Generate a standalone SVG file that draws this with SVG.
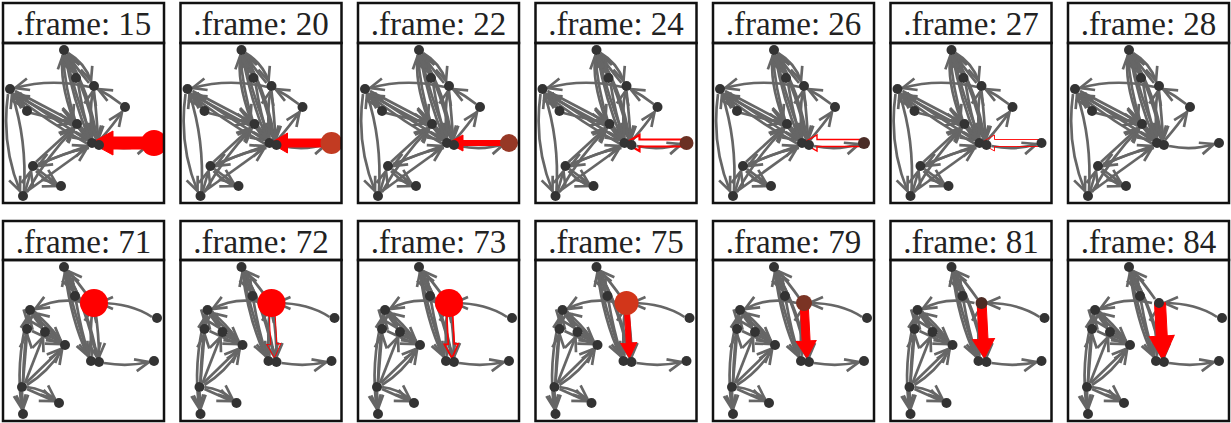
<svg xmlns="http://www.w3.org/2000/svg" xmlns:xlink="http://www.w3.org/1999/xlink" width="1231" height="423" viewBox="0 0 1231 423">
<style>
.e{fill:none;stroke:#666;stroke-width:2.7;marker-end:url(#ah)}
.n{fill:#333}
.box{fill:none;stroke:#111;stroke-width:2.5}
.bg{fill:#fff;stroke:none}
.lbl{fill:#222;text-anchor:middle}
.rf{fill:#ff0000;stroke:#ff0000;stroke-width:1;stroke-linejoin:miter}
.ro{fill:none;stroke:#ff0000;stroke-linejoin:miter}
</style>
<defs>
<marker id="ah" markerUnits="userSpaceOnUse" viewBox="-16 -9 18 18" markerWidth="18" markerHeight="18" refX="0" refY="0" orient="auto">
<path d="M-14,-6 L0,0 L-14,6" fill="none" stroke="#666" stroke-width="2.7"/>
</marker>
<clipPath id="cpT"><rect x="0" y="43" width="161" height="160"/></clipPath>
<clipPath id="cpB"><rect x="0" y="260" width="161" height="161"/></clipPath>
<g id="topEdges">
<path class="e" d="M89,138 Q72,95 63,56"/>
<path class="e" d="M94,140 Q84,95 65,55"/>
<path class="e" d="M62,55 Q70,100 86,138"/>
<path class="e" d="M64,55 Q88,95 94,140"/>
<path class="e" d="M91,91 Q94,118 95,140"/>
<path class="e" d="M89,138 Q86,110 90,91"/>
<path class="e" d="M75,83 Q80,115 88,138"/>
<path class="e" d="M86,83 Q72,66 65,55"/>
<path class="e" d="M62,55 L71,73"/>
<path class="e" d="M65,53 Q82,63 88,81"/>
<path class="e" d="M72,120 Q62,88 60,55"/>
<path class="e" d="M60,55 Q56,80 70,119"/>
<path class="e" d="M87,87 Q48,78 12,88"/>
<path class="e" d="M12,91 L69,121"/>
<path class="e" d="M70,126 L12,95"/>
<path class="e" d="M12,93 Q50,118 84,140"/>
<path class="e" d="M85,144 Q45,122 11,95"/>
<path class="e" d="M28,113 L69,123"/>
<path class="e" d="M10,93 L21,107"/>
<path class="e" d="M5,94 Q-2,145 17,191"/>
<path class="e" d="M21,191 Q24,140 9,94"/>
<path class="e" d="M33,162 L70,128"/>
<path class="e" d="M35,164 L84,146"/>
<path class="e" d="M86,148 Q60,152 35,166"/>
<path class="e" d="M23,192 L84,148"/>
<path class="e" d="M24,192 Q45,155 71,129"/>
<path class="e" d="M34,169 L53,183"/>
<path class="e" d="M33,171 Q44,182 54,186"/>
<path class="e" d="M22,192 L28,171"/>
<path class="e" d="M77,128 L86,139"/>
<path class="e" d="M118,104 Q108,96 95,89"/>
<path class="e" d="M97,140 Q110,125 119,112"/>
<path class="e" d="M101,146 Q125,151 146,144"/>
</g>
<g id="topNodes">
<g id="tA"><circle class="n" cx="61" cy="50" r="5"/></g>
<g id="tB"><circle class="n" cx="73" cy="78" r="5"/></g>
<g id="tC"><circle class="n" cx="91" cy="86" r="5"/></g>
<g id="tD"><circle class="n" cx="7" cy="89" r="5"/></g>
<g id="tE"><circle class="n" cx="24" cy="111" r="5"/></g>
<g id="tF"><circle class="n" cx="122" cy="107" r="5"/></g>
<g id="tG"><circle class="n" cx="74" cy="124" r="5"/></g>
<g id="tH"><circle class="n" cx="89" cy="143" r="5"/></g>
<g id="tH2"><circle class="n" cx="96" cy="145" r="5"/></g>
<g id="tR"><circle class="n" cx="151" cy="143" r="5"/></g>
<g id="tI"><circle class="n" cx="30" cy="166" r="5"/></g>
<g id="tJ"><circle class="n" cx="58" cy="186" r="5"/></g>
<g id="tK"><circle class="n" cx="20" cy="196" r="5"/></g>
</g>
<g id="botEdges">
<path class="e" d="M86,356 Q70,310 62,272"/>
<path class="e" d="M94,357 Q82,305 64,272"/>
<path class="e" d="M62,272 Q68,320 85,356"/>
<path class="e" d="M63,272 Q86,310 94,357"/>
<path class="e" d="M73,301 Q78,330 86,356"/>
<path class="e" d="M62,272 L70,291"/>
<path class="e" d="M87,299 Q75,282 65,271"/>
<path class="e" d="M92,308 Q96,335 96,357"/>
<path class="e" d="M89,356 Q86,330 90,308"/>
<path class="e" d="M84,303 Q55,296 32,309"/>
<path class="e" d="M30,314 L58,341"/>
<path class="e" d="M29,314 L39,328"/>
<path class="e" d="M29,331 L57,344"/>
<path class="e" d="M46,335 L58,342"/>
<path class="e" d="M58,341 Q44,322 32,313"/>
<path class="e" d="M26,315 L25,324"/>
<path class="e" d="M20,382 Q21,345 26,315"/>
<path class="e" d="M20,382 L24,334"/>
<path class="e" d="M22,383 L40,337"/>
<path class="e" d="M23,383 L58,349"/>
<path class="e" d="M24,385 Q45,372 59,350"/>
<path class="e" d="M25,314 Q12,365 19,409"/>
<path class="e" d="M19,392 L20,409"/>
<path class="e" d="M24,389 L51,401"/>
<path class="e" d="M24,387 Q40,389 52,399"/>
<path class="e" d="M149,317 Q128,303 96,303"/>
<path class="e" d="M101,363 Q125,367 146,362"/>
</g>
<g id="botNodes">
<g id="bP1"><circle class="n" cx="61" cy="267" r="5"/></g>
<g id="bP2"><circle class="n" cx="72" cy="296" r="5"/></g>
<g id="bQ"><circle class="n" cx="91" cy="303" r="5"/></g>
<g id="bP3"><circle class="n" cx="27" cy="310" r="5"/></g>
<g id="bP4"><circle class="n" cx="24" cy="329" r="5"/></g>
<g id="bP5"><circle class="n" cx="42" cy="332" r="5"/></g>
<g id="bP6"><circle class="n" cx="62" cy="345" r="5"/></g>
<g id="bP7"><circle class="n" cx="154" cy="318" r="5"/></g>
<g id="bP8"><circle class="n" cx="88" cy="361" r="5"/></g>
<g id="bP8b"><circle class="n" cx="96" cy="362" r="5"/></g>
<g id="bP9"><circle class="n" cx="151" cy="361" r="5"/></g>
<g id="bP10"><circle class="n" cx="19" cy="387" r="5"/></g>
<g id="bP11"><circle class="n" cx="56" cy="403" r="5"/></g>
<g id="bP12"><circle class="n" cx="20" cy="414" r="5"/></g>
</g>
</defs>
<rect x="0" y="0" width="1231" height="423" fill="#fff"/>

<g id="panel-f15" transform="translate(3,0)">
<rect class="bg" x="0" y="3" width="161" height="200"/>
<text class="lbl" x="80.5" y="35" font-family="Liberation Serif" font-size="33">.frame: 15</text>
<g clip-path="url(#cpT)">
<use xlink:href="#topEdges"/>
<path class="rf" transform="translate(88,143) rotate(90)" d="M-6,-63 L-6,-22 L-12,-22 L0,0 L12,-22 L6,-22 L6,-63 Z"/>
<use xlink:href="#topNodes"/>
<circle cx="151" cy="143" r="13" fill="#ff0000"/>
</g>
<rect class="box" x="0" y="3" width="161" height="40"/>
<rect class="box" x="0" y="43" width="161" height="160"/>
</g>
<g id="panel-f20" transform="translate(180.5,0)">
<rect class="bg" x="0" y="3" width="161" height="200"/>
<text class="lbl" x="80.5" y="35" font-family="Liberation Serif" font-size="33">.frame: 20</text>
<g clip-path="url(#cpT)">
<use xlink:href="#topEdges"/>
<path class="rf" transform="translate(90,143) rotate(90)" d="M-4,-61 L-4,-17 L-10,-17 L0,0 L10,-17 L4,-17 L4,-61 Z"/>
<use xlink:href="#topNodes"/>
<circle cx="151" cy="143" r="11" fill="#c23b22"/>
</g>
<rect class="box" x="0" y="3" width="161" height="40"/>
<rect class="box" x="0" y="43" width="161" height="160"/>
</g>
<g id="panel-f22" transform="translate(358,0)">
<rect class="bg" x="0" y="3" width="161" height="200"/>
<text class="lbl" x="80.5" y="35" font-family="Liberation Serif" font-size="33">.frame: 22</text>
<g clip-path="url(#cpT)">
<use xlink:href="#topEdges"/>
<path class="rf" transform="translate(90,143) rotate(90)" d="M-2.5,-61 L-2.5,-15 L-8,-15 L0,0 L8,-15 L2.5,-15 L2.5,-61 Z"/>
<use xlink:href="#topNodes"/>
<circle cx="151" cy="143" r="9" fill="#963826"/>
</g>
<rect class="box" x="0" y="3" width="161" height="40"/>
<rect class="box" x="0" y="43" width="161" height="160"/>
</g>
<g id="panel-f24" transform="translate(535.5,0)">
<rect class="bg" x="0" y="3" width="161" height="200"/>
<text class="lbl" x="80.5" y="35" font-family="Liberation Serif" font-size="33">.frame: 24</text>
<g clip-path="url(#cpT)">
<use xlink:href="#topEdges"/>
<path class="ro" stroke-width="2.2" transform="translate(90,143) rotate(90)" d="M-3.5,-61 L-3.5,-14 L-8,-14 L0,0 L8,-14 L3.5,-14 L3.5,-61"/>
<use xlink:href="#topNodes"/>
<circle cx="151" cy="143" r="7" fill="#6b3123"/>
</g>
<rect class="box" x="0" y="3" width="161" height="40"/>
<rect class="box" x="0" y="43" width="161" height="160"/>
</g>
<g id="panel-f26" transform="translate(713,0)">
<rect class="bg" x="0" y="3" width="161" height="200"/>
<text class="lbl" x="80.5" y="35" font-family="Liberation Serif" font-size="33">.frame: 26</text>
<g clip-path="url(#cpT)">
<use xlink:href="#topEdges"/>
<path class="ro" stroke-width="1.4" transform="translate(90,143) rotate(90)" d="M-3.5,-61 L-3.5,-14 L-8,-14 L0,0 L8,-14 L3.5,-14 L3.5,-61"/>
<use xlink:href="#topNodes"/>
<circle cx="151" cy="143" r="6" fill="#4b2d27"/>
</g>
<rect class="box" x="0" y="3" width="161" height="40"/>
<rect class="box" x="0" y="43" width="161" height="160"/>
</g>
<g id="panel-f27" transform="translate(890.5,0)">
<rect class="bg" x="0" y="3" width="161" height="200"/>
<text class="lbl" x="80.5" y="35" font-family="Liberation Serif" font-size="33">.frame: 27</text>
<g clip-path="url(#cpT)">
<use xlink:href="#topEdges"/>
<path class="ro" stroke-width="0.9" transform="translate(90,143) rotate(90)" d="M-3.5,-61 L-3.5,-14 L-8,-14 L0,0 L8,-14 L3.5,-14 L3.5,-61"/>
<use xlink:href="#topNodes"/>
</g>
<rect class="box" x="0" y="3" width="161" height="40"/>
<rect class="box" x="0" y="43" width="161" height="160"/>
</g>
<g id="panel-f28" transform="translate(1068,0)">
<rect class="bg" x="0" y="3" width="161" height="200"/>
<text class="lbl" x="80.5" y="35" font-family="Liberation Serif" font-size="33">.frame: 28</text>
<g clip-path="url(#cpT)">
<use xlink:href="#topEdges"/>
<use xlink:href="#topNodes"/>
</g>
<rect class="box" x="0" y="3" width="161" height="40"/>
<rect class="box" x="0" y="43" width="161" height="160"/>
</g>

<g id="panel-f71" transform="translate(3,0)">
<rect class="bg" x="0" y="221" width="161" height="200"/>
<text class="lbl" x="80.5" y="253" font-family="Liberation Serif" font-size="33">.frame: 71</text>
<g clip-path="url(#cpB)">
<use xlink:href="#botEdges"/>
<use xlink:href="#botNodes"/>
<circle cx="91" cy="303" r="14" fill="#ff0000"/>
</g>
<rect class="box" x="0" y="221" width="161" height="39"/>
<rect class="box" x="0" y="260" width="161" height="161"/>
</g>
<g id="panel-f72" transform="translate(180.5,0)">
<rect class="bg" x="0" y="221" width="161" height="200"/>
<text class="lbl" x="80.5" y="253" font-family="Liberation Serif" font-size="33">.frame: 72</text>
<g clip-path="url(#cpB)">
<use xlink:href="#botEdges"/>
<path class="ro" stroke-width="1" transform="translate(94,358) rotate(-3)" d="M-3,-55 L-3,-14 L-7,-14 L0,0 L7,-14 L3,-14 L3,-55"/>
<use xlink:href="#botNodes"/>
<circle cx="91" cy="303" r="14" fill="#ff0000"/>
</g>
<rect class="box" x="0" y="221" width="161" height="39"/>
<rect class="box" x="0" y="260" width="161" height="161"/>
</g>
<g id="panel-f73" transform="translate(358,0)">
<rect class="bg" x="0" y="221" width="161" height="200"/>
<text class="lbl" x="80.5" y="253" font-family="Liberation Serif" font-size="33">.frame: 73</text>
<g clip-path="url(#cpB)">
<use xlink:href="#botEdges"/>
<path class="ro" stroke-width="1.7" transform="translate(94,358) rotate(-3)" d="M-3,-55 L-3,-14 L-7,-14 L0,0 L7,-14 L3,-14 L3,-55"/>
<use xlink:href="#botNodes"/>
<circle cx="91" cy="303" r="14" fill="#ff0000"/>
</g>
<rect class="box" x="0" y="221" width="161" height="39"/>
<rect class="box" x="0" y="260" width="161" height="161"/>
</g>
<g id="panel-f75" transform="translate(535.5,0)">
<rect class="bg" x="0" y="221" width="161" height="200"/>
<text class="lbl" x="80.5" y="253" font-family="Liberation Serif" font-size="33">.frame: 75</text>
<g clip-path="url(#cpB)">
<use xlink:href="#botEdges"/>
<path class="rf" transform="translate(94,358) rotate(-3)" d="M-2.5,-55 L-2.5,-15 L-8,-15 L0,0 L8,-15 L2.5,-15 L2.5,-55 Z"/>
<use xlink:href="#botNodes"/>
<circle cx="91" cy="303" r="12" fill="#d2361a"/>
</g>
<rect class="box" x="0" y="221" width="161" height="39"/>
<rect class="box" x="0" y="260" width="161" height="161"/>
</g>
<g id="panel-f79" transform="translate(713,0)">
<rect class="bg" x="0" y="221" width="161" height="200"/>
<text class="lbl" x="80.5" y="253" font-family="Liberation Serif" font-size="33">.frame: 79</text>
<g clip-path="url(#cpB)">
<use xlink:href="#botEdges"/>
<path class="rf" transform="translate(94,358) rotate(-3)" d="M-4,-55 L-4,-17 L-10,-17 L0,0 L10,-17 L4,-17 L4,-55 Z"/>
<use xlink:href="#botNodes"/>
<circle cx="91" cy="303" r="8" fill="#7b3424"/>
</g>
<rect class="box" x="0" y="221" width="161" height="39"/>
<rect class="box" x="0" y="260" width="161" height="161"/>
</g>
<g id="panel-f81" transform="translate(890.5,0)">
<rect class="bg" x="0" y="221" width="161" height="200"/>
<text class="lbl" x="80.5" y="253" font-family="Liberation Serif" font-size="33">.frame: 81</text>
<g clip-path="url(#cpB)">
<use xlink:href="#botEdges"/>
<path class="rf" transform="translate(94,358) rotate(-3)" d="M-4.5,-55 L-4.5,-19 L-11,-19 L0,0 L11,-19 L4.5,-19 L4.5,-55 Z"/>
<use xlink:href="#botNodes"/>
<circle cx="91" cy="303" r="6" fill="#4c2c25"/>
</g>
<rect class="box" x="0" y="221" width="161" height="39"/>
<rect class="box" x="0" y="260" width="161" height="161"/>
</g>
<g id="panel-f84" transform="translate(1068,0)">
<rect class="bg" x="0" y="221" width="161" height="200"/>
<text class="lbl" x="80.5" y="253" font-family="Liberation Serif" font-size="33">.frame: 84</text>
<g clip-path="url(#cpB)">
<use xlink:href="#botEdges"/>
<path class="rf" transform="translate(95,360) rotate(-3)" d="M-5.5,-57 L-5.5,-24 L-12.5,-24 L0,0 L12.5,-24 L5.5,-24 L5.5,-57 Z"/>
<use xlink:href="#botNodes"/>
</g>
<rect class="box" x="0" y="221" width="161" height="39"/>
<rect class="box" x="0" y="260" width="161" height="161"/>
</g>
</svg>
